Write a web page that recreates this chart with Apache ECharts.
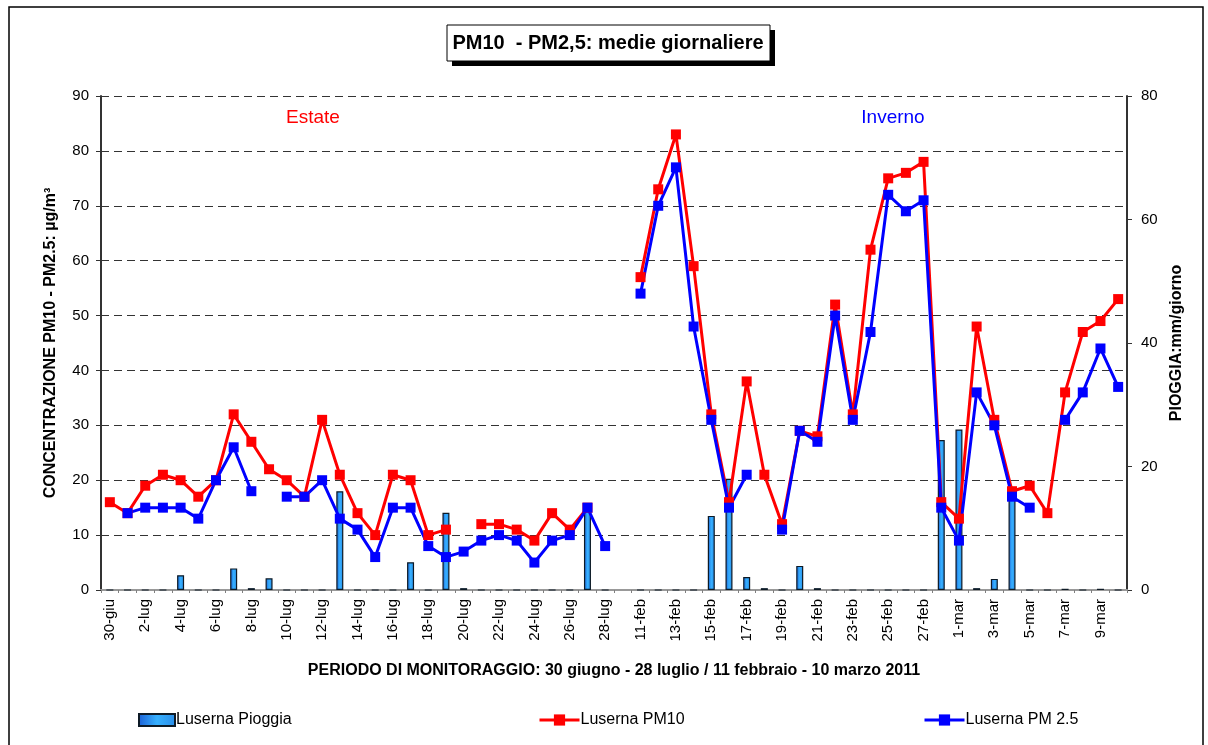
<!DOCTYPE html>
<html>
<head>
<meta charset="utf-8">
<script src="https://cdn.jsdelivr.net/npm/echarts@6/dist/echarts.min.js"></script>
<style>
  html, body { margin: 0; padding: 0; background: #fff; }
  #chart { width: 1208px; height: 745px; }
</style>
</head>
<body>
<div id="chart"></div>
<script>
// Giorni di monitoraggio: estate (30 giugno - 28 luglio), una colonna vuota, inverno (11 febbraio - 10 marzo)
const giorni = [
  '30-giu', '1-lug', '2-lug', '3-lug', '4-lug', '5-lug', '6-lug', '7-lug', '8-lug', '9-lug',
  '10-lug', '11-lug', '12-lug', '13-lug', '14-lug', '15-lug', '16-lug', '17-lug', '18-lug', '19-lug',
  '20-lug', '21-lug', '22-lug', '23-lug', '24-lug', '25-lug', '26-lug', '27-lug', '28-lug', '',
  '11-feb', '12-feb', '13-feb', '14-feb', '15-feb', '16-feb', '17-feb', '18-feb', '19-feb', '20-feb',
  '21-feb', '22-feb', '23-feb', '24-feb', '25-feb', '26-feb', '27-feb', '28-feb',
  '1-mar', '2-mar', '3-mar', '4-mar', '5-mar', '6-mar', '7-mar', '8-mar', '9-mar', '10-mar'
];

// Media giornaliera PM10 (µg/m³)
const pm10 = [
  16, 14, 19, 21, 20, 17, 20, 32, 27, 22,
  20, 17, 31, 21, 14, 10, 21, 20, 10, 11,
  null, 12, 12, 11, 9, 14, 11, 15, null, null,
  57, 73, 83, 59, 32, 16, 38, 21, 12, 29,
  28, 52, 32, 62, 75, 76, 78, 16,
  13, 48, 31, 18, 19, 14, 36, 47, 49, 53
];

// Media giornaliera PM2.5 (µg/m³)
const pm25 = [
  null, 14, 15, 15, 15, 13, 20, 26, 18, null,
  17, 17, 20, 13, 11, 6, 15, 15, 8, 6,
  7, 9, 10, 9, 5, 9, 10, 15, 8, null,
  54, 70, 77, 48, 31, 15, 21, null, 11, 29,
  27, 50, 31, 47, 72, 69, 71, 15,
  9, 36, 30, 17, 15, null, 31, 36, 44, 37
];

// Pioggia giornaliera (mm/giorno)
const pioggia = [
  0, 0, 0, 0, 2.4, 0, 0, 3.5, 0.3, 1.9,
  0, 0, 0, 16, 0, 0, 0, 4.5, 0, 12.5,
  0.3, 0, 0, 0, 0, 0, 0, 14, 0, null,
  0, 0, 0, 0, 12, 18, 2.1, 0.3, 0, 3.9,
  0.3, 0, 0, 0, 0, 0, 0, 24.3,
  26, 0.3, 1.8, 16, 0, 0, 0.2, 0, 0.2, 0
];

const FONT = '"Liberation Sans", Arial, sans-serif';

const chart = echarts.init(document.getElementById('chart'), null, { renderer: 'canvas' });

const barFill = new echarts.graphic.LinearGradient(0, 0, 1, 0, [
  { offset: 0, color: '#1b5fd6' },
  { offset: 0.5, color: '#36b0ff' },
  { offset: 1, color: '#2a8de8' }
]);

const legendText = { fontFamily: FONT, fontSize: 16, color: '#000', padding: [0, 0, 0, -4] };

chart.setOption({
  animation: false,
  backgroundColor: '#ffffff',
  textStyle: { fontFamily: FONT, color: '#000' },
  grid: { left: 101, right: 81, top: 96, bottom: 155, containLabel: false },
  graphic: [
    // cornice esterna
    { type: 'rect', shape: { x: 9, y: 7, width: 1194, height: 760 }, style: { fill: 'none', stroke: '#000', lineWidth: 1.5 }, silent: true },
    // riquadro del titolo con ombra
    { type: 'rect', shape: { x: 452, y: 30, width: 323, height: 36 }, style: { fill: '#000' }, silent: true },
    { type: 'rect', shape: { x: 447, y: 25, width: 323, height: 36 }, style: { fill: '#fff', stroke: '#000', lineWidth: 1 }, silent: true },
    { type: 'text', x: 608, y: 43, style: { text: 'PM10  - PM2,5: medie giornaliere', fontFamily: FONT, fontWeight: 'bold', fontSize: 20, fill: '#000', align: 'center', verticalAlign: 'middle' }, silent: true },
    // stagioni
    { type: 'text', x: 313, y: 118, style: { text: 'Estate', fontFamily: FONT, fontSize: 19, fill: '#ff0000', align: 'center', verticalAlign: 'middle' }, silent: true },
    { type: 'text', x: 893, y: 118, style: { text: 'Inverno', fontFamily: FONT, fontSize: 19, fill: '#0000ff', align: 'center', verticalAlign: 'middle' }, silent: true }
  ],
  legend: [
    { left: 133, top: 707, data: [{ name: 'Luserna Pioggia', icon: 'rect' }], itemWidth: 36, itemHeight: 12, textStyle: legendText },
    { left: 533, top: 707, data: ['Luserna PM10'], itemWidth: 40, itemHeight: 14, lineStyle: { width: 3 }, textStyle: legendText },
    { left: 918, top: 707, data: ['Luserna PM 2.5'], itemWidth: 40, itemHeight: 14, lineStyle: { width: 3 }, textStyle: legendText }
  ],
  xAxis: [
    {
      type: 'category',
      data: giorni,
      boundaryGap: true,
      name: 'PERIODO DI MONITORAGGIO: 30 giugno - 28 luglio / 11 febbraio - 10 marzo 2011',
      nameLocation: 'middle',
      nameGap: 73,
      nameTextStyle: { fontFamily: FONT, fontWeight: 'bold', fontSize: 16, color: '#000' },
      axisLine: { lineStyle: { color: '#808080', width: 2 } },
      axisTick: { show: true, interval: 0, length: 3, lineStyle: { color: '#808080' } },
      axisLabel: { interval: 1, rotate: 90, fontFamily: FONT, fontSize: 15, color: '#000', margin: 9 }
    },
    {
      type: 'category',
      data: giorni,
      position: 'top',
      axisLine: { show: true, lineStyle: { color: '#999999', width: 2 } },
      axisTick: { show: false },
      axisLabel: { show: false }
    }
  ],
  yAxis: [
    {
      type: 'value',
      min: 0, max: 90, interval: 10,
      name: 'CONCENTRAZIONE PM10 - PM2.5: µg/m³',
      nameLocation: 'middle',
      nameGap: 42,
      nameTextStyle: { fontFamily: FONT, fontWeight: 'bold', fontSize: 16, color: '#000' },
      axisLine: { show: true, lineStyle: { color: '#333', width: 2 } },
      axisTick: { show: true, inside: false, length: 5, lineStyle: { color: '#333' } },
      axisLabel: { fontFamily: FONT, fontSize: 15, color: '#000', margin: 12 },
      splitLine: { show: true, lineStyle: { color: '#333', type: [8, 5], width: 1 } }
    },
    {
      type: 'value',
      min: 0, max: 80, interval: 20,
      position: 'right',
      name: 'PIOGGIA:mm/giorno',
      nameLocation: 'middle',
      nameGap: 40,
      nameTextStyle: { fontFamily: FONT, fontWeight: 'bold', fontSize: 16, color: '#000' },
      axisLine: { show: true, lineStyle: { color: '#333', width: 2 } },
      axisTick: { show: true, inside: false, length: 5, lineStyle: { color: '#333' } },
      axisLabel: { fontFamily: FONT, fontSize: 15, color: '#000', margin: 14 },
      splitLine: { show: false }
    }
  ],
  series: [
    {
      name: 'Luserna Pioggia',
      type: 'bar',
      yAxisIndex: 1,
      data: pioggia,
      barWidth: 7,
      itemStyle: { color: barFill, borderColor: '#0d1a26', borderWidth: 1.2 }
    },
    {
      name: 'Luserna PM10',
      type: 'line',
      data: pm10,
      connectNulls: false,
      symbol: 'rect',
      symbolSize: 10,
      lineStyle: { color: '#ff0000', width: 3 },
      itemStyle: { color: '#ff0000' }
    },
    {
      name: 'Luserna PM 2.5',
      type: 'line',
      data: pm25,
      connectNulls: false,
      symbol: 'rect',
      symbolSize: 10,
      lineStyle: { color: '#0000ff', width: 3 },
      itemStyle: { color: '#0000ff' }
    }
  ]
});
</script>
</body>
</html>
